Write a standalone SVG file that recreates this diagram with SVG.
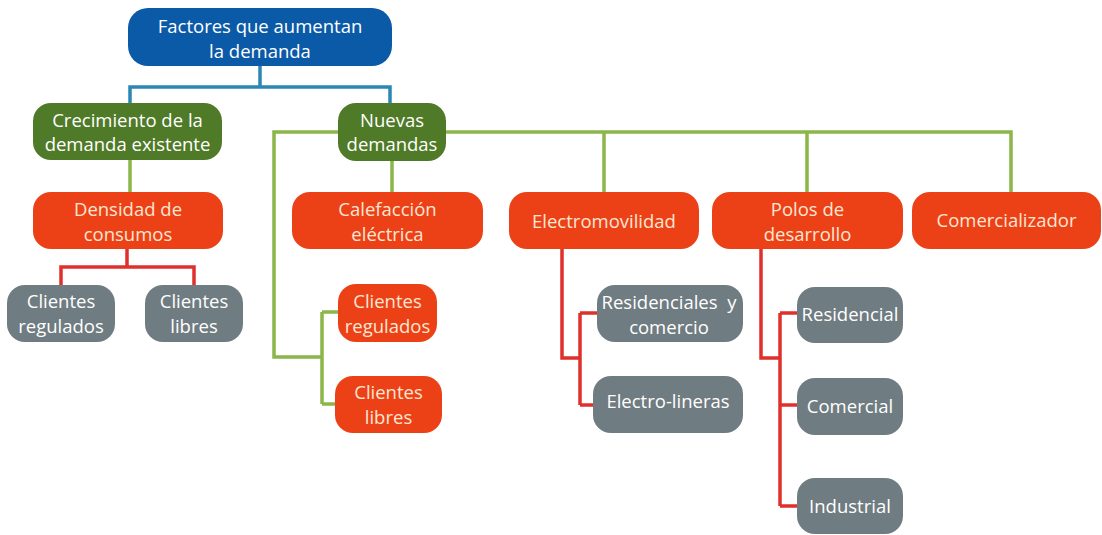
<svg xmlns="http://www.w3.org/2000/svg" width="1102" height="535" viewBox="0 0 1102 535">
<style>
.blue{fill:#0b5aa8}
.green{fill:#4f7a27}
.red{fill:#ec4117}
.gray{fill:#6f7c81}
text{font-family:"Open Sans","Liberation Sans",sans-serif;font-size:18.5px;fill:#ffffff;text-anchor:middle;dominant-baseline:central}
.red text{fill:#fde6d2}
.cb{fill:none;stroke:#2b87b3;stroke-width:3.5}
.cg{fill:none;stroke:#8cb54a;stroke-width:3.5}
.cr{fill:none;stroke:#e0302b;stroke-width:3.5}
</style>
<rect width="1102" height="535" fill="#ffffff"/>
<g id="connectors">
<path class="cb" d="M260,66 V87 M130,103 V87 H390 V103"/>
<path class="cg" d="M130,160 V192 M392,161 V192 M446,132 H1011 V192 M604,132 V192 M807,132 V192 M338,132 H274 V357 H322 M322,312 V404 M322,312 H338 M322,404 H336"/>
<path class="cr" d="M127,249 V267 M61,285 V267 H194 V285 M562,249 V358 H580 M580,313 V405 M580,313 H597 M580,405 H594 M761,249 V358 H780 M780,313 V506 M780,313 H797 M780,405 H797 M780,506 H797"/>
</g>
<g id="root" class="blue"><rect x="128" y="8" width="264" height="58" rx="20"/><text x="260" y="25">Factores que aumentan</text><text x="260" y="50">la demanda</text></g>
<g id="crecimiento" class="green"><rect x="33" y="103" width="189" height="57" rx="18"/><text x="127.5" y="119">Crecimiento de la</text><text x="127.5" y="143">demanda existente</text></g>
<g id="nuevas" class="green"><rect x="338" y="103" width="108" height="58" rx="18"/><text x="392" y="119">Nuevas</text><text x="392" y="143">demandas</text></g>
<g id="densidad" class="red"><rect x="33" y="192" width="190" height="57" rx="18"/><text x="128" y="208">Densidad de</text><text x="128" y="233">consumos</text></g>
<g id="calefaccion" class="red"><rect x="292" y="192" width="191" height="57" rx="18"/><text x="387.5" y="208">Calefacción</text><text x="387.5" y="233">eléctrica</text></g>
<g id="electromovilidad" class="red"><rect x="509" y="192" width="190" height="57" rx="18"/><text x="604" y="220">Electromovilidad</text></g>
<g id="polos" class="red"><rect x="712" y="192" width="191" height="57" rx="18"/><text x="807.5" y="208">Polos de</text><text x="807.5" y="233">desarrollo</text></g>
<g id="comercializador" class="red"><rect x="912" y="192" width="189" height="57" rx="18"/><text x="1006.5" y="219">Comercializador</text></g>
<g id="clientes-regulados-1" class="gray"><rect x="7" y="285" width="108" height="57" rx="18"/><text x="61" y="300">Clientes</text><text x="61" y="325">regulados</text></g>
<g id="clientes-libres-1" class="gray"><rect x="145" y="285" width="98" height="57" rx="18"/><text x="194" y="300">Clientes</text><text x="194" y="325">libres</text></g>
<g id="clientes-regulados-2" class="red"><rect x="338" y="284" width="99" height="58" rx="18"/><text x="387.5" y="300">Clientes</text><text x="387.5" y="325">regulados</text></g>
<g id="clientes-libres-2" class="red"><rect x="335" y="376" width="107" height="57" rx="18"/><text x="388.5" y="391">Clientes</text><text x="388.5" y="416">libres</text></g>
<g id="residenciales" class="gray"><rect x="597" y="285" width="146" height="57" rx="18"/><text x="669" y="301">Residenciales&#160; y</text><text x="669" y="326">comercio</text></g>
<g id="electrolineras" class="gray"><rect x="593" y="376" width="150" height="57" rx="18"/><text x="668" y="400">Electro-lineras</text></g>
<g id="residencial" class="gray"><rect x="797" y="287" width="106" height="56" rx="18"/><text x="850" y="313">Residencial</text></g>
<g id="comercial" class="gray"><rect x="797" y="378" width="106" height="57" rx="18"/><text x="850" y="405">Comercial</text></g>
<g id="industrial" class="gray"><rect x="797" y="478" width="106" height="56" rx="18"/><text x="850" y="505">Industrial</text></g>
</svg>
